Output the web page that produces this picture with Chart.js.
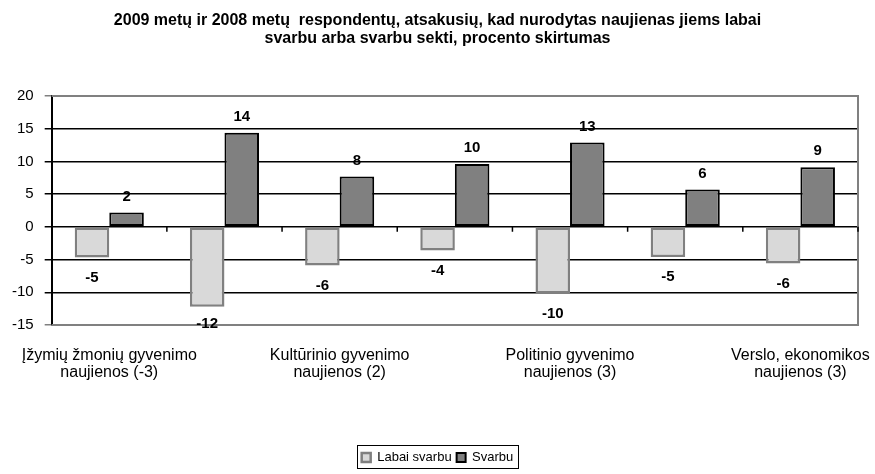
<!DOCTYPE html>
<html>
<head>
<meta charset="utf-8">
<script src="https://cdn.jsdelivr.net/npm/chart.js@4/dist/chart.umd.min.js"></script>
<style>
html,body{margin:0;padding:0;background:#fff;}
#wrap{width:875px;height:474px;}
</style>
</head>
<body>
<div id="wrap"><canvas id="c" width="875" height="474"></canvas></div>
<script>
const titleLines = [
  "2009 metų ir 2008 metų  respondentų, atsakusių, kad nurodytas naujienas jiems labai",
  "svarbu arba svarbu sekti, procento skirtumas"
];
// 7 categories; only every second label is shown in the reference (others unreadable)
const categories = [
  ["Įžymių žmonių gyvenimo", "naujienos (-3)"],
  "",
  ["Kultūrinio gyvenimo", "naujienos (2)"],
  "",
  ["Politinio gyvenimo", "naujienos (3)"],
  "",
  ["Verslo, ekonomikos", "naujienos (3)"]
];
const seriesNames = ["Labai svarbu", "Svarbu"];
const labaiSvarbu = [-4.7, -12.2, -5.9, -3.6, -10.2, -4.6, -5.6];
const svarbu = [2.2, 14.4, 7.7, 9.6, 12.9, 5.7, 9.1];
const yMin = -15, yMax = 20, yStep = 5;

const FONT = "'Liberation Sans', Arial, sans-serif";

const dataLabels = {
  id: 'dataLabels',
  afterDatasetsDraw(chart) {
    const ctx = chart.ctx;
    const a = chart.chartArea;
    ctx.save();
    ctx.font = "bold 15px " + FONT;
    ctx.fillStyle = "#000";
    ctx.textAlign = "center";
    ctx.textBaseline = "middle";
    chart.data.datasets.forEach((ds, di) => {
      const meta = chart.getDatasetMeta(di);
      meta.data.forEach((el, i) => {
        const v = ds.data[i];
        const txt = String(Math.round(v));
        const y = v >= 0 ? el.y - 16 : Math.min(el.y + 20, a.bottom - 1);
        ctx.fillText(txt, el.x, y);
      });
    });
    ctx.restore();
  }
};

const frame = {
  id: 'frame',
  beforeDatasetsDraw(chart) {
    const {ctx, chartArea: a, scales} = chart;
    ctx.save();
    ctx.strokeStyle = "#808080";
    ctx.lineWidth = 2;
    ctx.beginPath();
    ctx.moveTo(a.left, a.top);
    ctx.lineTo(a.right, a.top);
    ctx.lineTo(a.right, a.bottom);
    ctx.lineTo(a.left, a.bottom);
    ctx.stroke();
    // zero line ticks at category boundaries
    const y0 = scales.y.getPixelForValue(0);
    const n = chart.data.labels.length;
    ctx.strokeStyle = "#000";
    ctx.lineWidth = 1.5;
    ctx.beginPath();
    for (let i = 1; i <= n; i++) {
      const x = a.left + (a.right - a.left) * i / n;
      ctx.moveTo(x, y0);
      ctx.lineTo(x, y0 + 5);
    }
    ctx.stroke();
    ctx.restore();
  },
  afterDraw(chart) {
    const lg = chart.legend;
    if (!lg || !lg.legendHitBoxes || !lg.legendHitBoxes.length) return;
    let l = Infinity, t = Infinity, r = -Infinity, b = -Infinity;
    lg.legendHitBoxes.forEach(h => {
      l = Math.min(l, h.left); t = Math.min(t, h.top);
      r = Math.max(r, h.left + h.width); b = Math.max(b, h.top + h.height);
    });
    const ctx = chart.ctx;
    ctx.save();
    ctx.strokeStyle = "#000";
    ctx.lineWidth = 1;
    ctx.strokeRect(Math.round(l - 5) + 0.5, Math.round(t - 6) + 0.5, Math.round(r - l + 9), Math.round(b - t + 10));
    ctx.restore();
  }
};

new Chart(document.getElementById('c'), {
  type: 'bar',
  data: {
    labels: categories,
    datasets: [
      {
        label: seriesNames[0],
        data: labaiSvarbu,
        backgroundColor: "#d9d9d9",
        borderColor: "#808080",
        borderWidth: 2.5,
        borderSkipped: false
      },
      {
        label: seriesNames[1],
        data: svarbu,
        backgroundColor: "#808080",
        borderColor: "#000",
        borderWidth: 2,
        borderSkipped: false
      }
    ]
  },
  options: {
    responsive: false,
    animation: false,
    devicePixelRatio: 1,
    layout: { padding: { left: 1, right: 1, top: 8, bottom: 0 } },
    datasets: { bar: { barPercentage: 1, categoryPercentage: 0.6 } },
    plugins: {
      title: {
        display: true,
        text: titleLines,
        color: "#000",
        font: { family: FONT, size: 16, weight: 'bold', lineHeight: 1.125 },
        padding: { top: 4, bottom: 48 }
      },
      legend: {
        position: 'bottom',
        labels: {
          color: "#000",
          font: { family: FONT, size: 13 },
          boxWidth: 9, boxHeight: 9,
          padding: 5
        }
      },
      tooltip: { enabled: false }
    },
    scales: {
      x: {
        afterFit(scale) { scale.paddingLeft = 0; scale.paddingRight = 17; },
        grid: { display: true, drawOnChartArea: false, drawTicks: true, tickLength: 20, color: 'rgba(0,0,0,0)' },
        border: { display: false },
        ticks: {
          color: "#000",
          font: { family: FONT, size: 16, lineHeight: 1.0625 },
          maxRotation: 0,
          autoSkip: false,
          padding: 2
        },
        title: {
          display: true,
          text: ' ',
          font: { family: FONT, size: 10, lineHeight: 1 },
          padding: { top: 0, bottom: 53 }
        }
      },
      y: {
        min: yMin, max: yMax,
        ticks: { stepSize: yStep, color: "#000", font: { family: FONT, size: 15 }, padding: 11 },
        grid: {
          color: (c) => (c.tick && (c.tick.value === yMax || c.tick.value === yMin)) ? "#808080" : "#000",
          lineWidth: 1.5,
          tickLength: 7
        },
        border: { display: true, color: "#000", width: 2 }
      }
    }
  },
  plugins: [frame, dataLabels]
});
</script>
</body>
</html>
